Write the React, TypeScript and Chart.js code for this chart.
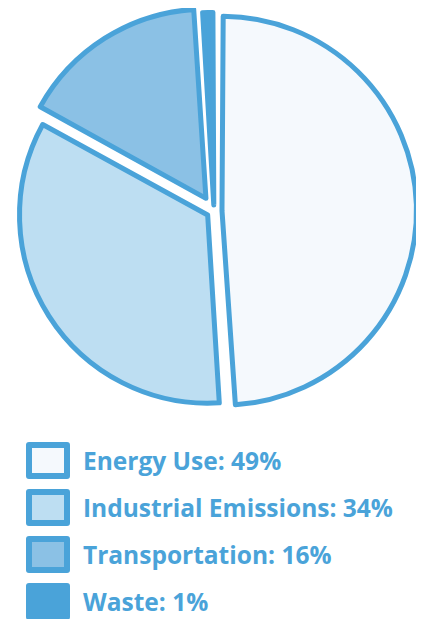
import React, { useEffect, useRef } from "react";
import { Chart, registerables } from "chart.js";

Chart.register(...registerables);

const categories = ["Energy Use", "Industrial Emissions", "Transportation", "Waste"];
const values = [49, 34, 16, 1];
const fills = ["#f5f9fd", "#bddef2", "#8bc1e5", "#4aa3d9"];
const sliceOffsets = [32, 30, 60, 24];
const BORDER = "#4aa3d9";

export default function App() {
  const ref = useRef<HTMLCanvasElement>(null);
  useEffect(() => {
    if (!ref.current) return;
    const chart = new Chart(ref.current, {
      type: "pie",
      data: {
        labels: categories,
        datasets: [
          {
            data: values,
            backgroundColor: fills,
            borderColor: BORDER,
            borderWidth: 5,
            borderJoinStyle: "round",
            offset: sliceOffsets,
          },
        ],
      },
      options: {
        animation: false,
        responsive: false,
        radius: 187,
        layout: { padding: { left: 0, right: 4 } },
        plugins: { legend: { display: false }, tooltip: { enabled: false } },
      },
    });
    return () => chart.destroy();
  }, []);

  return (
    <div style={{ fontFamily: "'Open Sans', sans-serif" }}>
      <canvas ref={ref} width={416} height={406} style={{ display: "block", width: 416, height: 406 }} />
      <div style={{ marginTop: 28, marginLeft: 18 }}>
        {categories.map((c, i) => (
          <div key={c} style={{ display: "flex", alignItems: "center", height: 37, marginBottom: 10 }}>
            <div
              style={{
                boxSizing: "border-box",
                width: 44,
                height: 37,
                border: `6px solid ${BORDER}`,
                borderRadius: 3,
                background: fills[i],
                flex: "none",
              }}
            />
            <span style={{ marginLeft: 13, color: "#4aa3d9", fontWeight: 700, fontSize: 24.5, whiteSpace: "nowrap", lineHeight: "37px" }}>
              {c}: {values[i]}%
            </span>
          </div>
        ))}
      </div>
    </div>
  );
}
